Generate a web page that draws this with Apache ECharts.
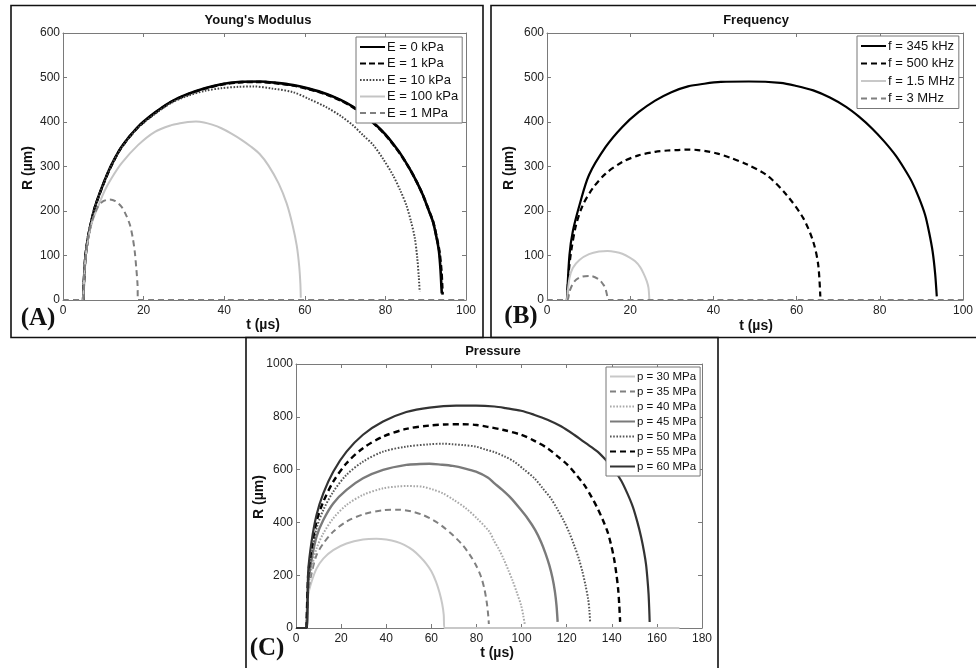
<!DOCTYPE html>
<html>
<head>
<meta charset="utf-8">
<script src="https://cdn.jsdelivr.net/npm/echarts@6/dist/echarts.min.js"></script>
<style>
html,body{margin:0;padding:0;background:#fff;}
#chart{width:976px;height:668px;}
</style>
</head>
<body>
<div id="chart"></div>
<script>
// ---------- Data (t in µs, R in µm) ----------
// Panel A: Young's Modulus
const A_names = ['E = 0 kPa', 'E = 1 kPa', 'E = 10 kPa', 'E = 100 kPa', 'E = 1 MPa'];
const A_E0 = [[5,0],[5.5,90],[6.2,140],[7,175],[7.8,205],[8.7,230],[10.3,268],[12,303],[14.5,344],[18.6,389],[22.8,421],[26.9,446],[31,463],[35.2,476],[39.3,485],[43.5,490],[48.8,491],[53,488],[57.1,483],[61,475],[65.4,463],[69,449],[72,434],[75,414],[77.8,392],[80,372],[81.9,351],[84,325],[86,295],[87.8,265],[89.3,236],[90.6,205],[91.8,176],[92.7,140],[93.3,109],[93.7,65],[93.9,30],[94,15]];
const A_E1 = [[5,0],[5.5,90],[6.2,140],[7,175],[7.8,205],[8.7,229],[10.3,267],[12,302],[14.5,343],[18.6,388],[22.8,420],[26.9,445],[31,462],[35.2,475],[39.3,484],[43.5,489],[48.8,490],[53,487],[57.1,482],[61,474],[65.4,462],[69,448],[72,433],[75,413],[77.8,391],[80,371],[81.9,350],[84,324],[86,295],[87.8,265],[89.3,236],[90.6,206],[91.8,177],[92.7,142],[93.4,109],[93.9,65],[94.1,30],[94.2,12]];
const A_E10 = [[5,0],[5.5,90],[6.2,140],[7,175],[7.8,205],[8.7,229],[10.3,267],[12,302],[14.5,342],[18.6,387],[22.8,418],[26.9,443],[31,459],[35.2,470],[39.3,476],[43.5,479],[47.2,480],[52,475],[57.1,467],[61,452],[65.4,433],[69,413],[72,392],[74.5,370],[77,348],[79.5,316],[81.9,280],[83.7,246],[85.2,213],[86.4,175],[87.3,139],[87.9,95],[88.3,50],[88.5,19]];
const A_E100 = [[5,0],[5.5,85],[6.2,135],[7.2,175],[8.7,210],[10.3,245],[12,273],[14.5,307],[18.6,348],[22.8,378],[26.9,393],[29,397],[31,400],[33,401],[35,399],[37,394],[39.3,386],[41.8,374],[44.3,360],[46.6,345],[48.8,328],[51,302],[53.5,262],[55.5,217],[57,167],[58,122],[58.6,77],[58.9,37],[59,5]];
const A_E1M = [[0,0],[5,0],[5.3,60],[5.8,110],[6.4,150],[7.5,185],[8.7,210],[10,222],[11.6,226],[13,222],[14.5,210],[15.6,192],[16.6,169],[17.3,140],[17.8,109],[18.2,70],[18.5,34],[18.6,0],[100,0]];

// Panel B: Frequency
const B_names = ['f = 345 kHz', 'f = 500 kHz', 'f = 1.5 MHz', 'f = 3 MHz'];
const B_f345 = [[4.8,0],[5.4,101],[6.2,154],[7.8,213],[10.1,281],[14.1,344],[18.1,389],[22,422],[26,448],[29.9,467],[33.9,480],[37.8,486],[41.8,490],[48.5,491],[56.1,488],[60,481],[64,471],[68,455],[71.9,434],[75,412],[78.2,385],[81,357],[83.8,325],[85.9,295],[87.7,266],[89.4,230],[90.9,191],[91.9,150],[92.7,109],[93.3,60],[93.7,8]];
const B_f500 = [[4.8,0],[5.2,60],[5.8,109],[7,169],[8.6,213],[11,251],[14.1,284],[18.1,310],[22,325],[26,333],[29,336],[31.5,337],[34,338],[36.3,337],[38.5,334],[41,329],[44,320],[48,305],[52.9,280],[57.6,236],[61.6,184],[64,131],[65.2,79],[65.7,8]];
const B_f15 = [[4.8,0],[5.4,49],[6.2,72],[7.8,90],[10.1,103],[12.5,109],[14.5,110],[16.5,108],[18.1,104],[19.8,96],[21.2,87],[22.4,74],[23.2,60],[24,42],[24.4,27],[24.6,0]];
const B_f3 = [[0,0],[4.8,0],[5.4,19],[6.6,42],[8.6,53],[10.5,54],[12.5,46],[13.5,35],[14,27],[14.5,8],[14.6,0],[100,0]];

// Panel C: Pressure
const C_names = ['p = 30 MPa', 'p = 35 MPa', 'p = 40 MPa', 'p = 45 MPa', 'p = 50 MPa', 'p = 55 MPa', 'p = 60 MPa'];
const C_p30 = [[4.7,0],[5.4,124],[6.9,175],[9.1,225],[12.1,263],[16.5,295],[22.4,320],[29.7,335],[35.6,338],[40,335],[44.5,327],[48,315],[51.8,295],[55,270],[57.7,244],[60,215],[62.1,175],[63.6,135],[64.8,92],[65.5,50],[65.8,0],[170,0]];
const C_p35 = [[4.7,0],[5.4,137],[6.9,206],[9.1,276],[12.1,320],[16.5,365],[22.4,403],[29.7,430],[38.6,446],[46,448],[51,442],[56.3,428],[61,408],[65.1,384],[69.5,352],[73.9,314],[77,278],[79.8,238],[82,195],[83.5,149],[84.6,95],[85.2,50],[85.5,15]];
const C_p40 = [[4.7,0],[5.4,149],[6.9,225],[9.1,301],[12.1,358],[16.5,415],[22.4,466],[29.7,504],[38.6,529],[45,536],[48.9,538],[53,537],[56.3,535],[60.5,525],[65.1,510],[70,485],[75.4,453],[80.5,413],[85.7,365],[88,327],[90,298],[92,262],[94,222],[96,180],[98,132],[99.8,86],[100.8,45],[101.4,15]];
const C_p45 = [[4.7,0],[5.4,162],[6.9,257],[9.1,346],[12.1,409],[16.5,472],[22.4,523],[29.7,567],[38.6,599],[48.9,618],[55,621],[59.2,622],[64,619],[69.5,614],[75,604],[79.8,592],[85,570],[88,548],[91.6,522],[95.4,491],[99,455],[102.7,415],[106,372],[108.6,327],[110.6,283],[112.3,238],[113.7,190],[114.8,137],[115.5,85],[116,23]];
const C_p50 = [[4.7,0],[5.4,175],[6.9,276],[9.1,377],[12.1,447],[16.5,516],[22.4,580],[29.7,630],[38.6,668],[48.9,687],[59.2,696],[65,698],[69.5,696],[74,693],[79.8,687],[84,676],[88,666],[92.4,650],[96.8,630],[101,601],[105.7,567],[109.5,528],[113,491],[116,448],[118.9,403],[121.2,360],[123.3,314],[125.3,265],[127,213],[128.4,160],[129.5,111],[130.1,65],[130.4,23]];
const C_p55 = [[4.7,0],[5.4,200],[6.9,301],[9.1,403],[12.1,478],[16.5,554],[22.4,624],[29.7,681],[38.6,725],[48.9,754],[59.2,767],[66,771],[73.9,772],[80,769],[85,762],[91.6,751],[99.8,732],[105.5,710],[111.5,681],[116,650],[120.4,618],[124.3,580],[127.8,542],[131,497],[133.7,453],[136,410],[138.1,365],[139.7,315],[141,263],[142,207],[142.8,149],[143.3,90],[143.7,23]];
const C_p60 = [[0,0],[4.7,0],[5.4,213],[6.9,327],[9.1,428],[12.1,510],[16.5,592],[22.4,668],[29.7,732],[38.6,782],[48.9,818],[59.2,835],[71,842],[79.8,842],[88,839],[93,833],[99.8,823],[105.5,808],[111.5,789],[117.5,764],[123.3,732],[128.5,700],[133.7,668],[137.5,635],[141,599],[144.2,558],[146.9,510],[149.3,460],[151.3,403],[153,345],[154.3,289],[155.2,240],[155.8,187],[156.3,130],[156.6,73],[156.8,23]];

// Axis ranges / ticks
const xTicksAB = {min: 0, max: 100, interval: 20};
const yTicksAB = {min: 0, max: 600, interval: 100};
const xTicksC = {min: 0, max: 180, interval: 20};
const yTicksC = {min: 0, max: 1000, interval: 200};

// ---------- Styling ----------
const FONT = '"Liberation Sans", Arial, sans-serif';
const AX = '#7a7a7a';
const DASH = [6, 4];
const DOT = [1.6, 1.6];

const grids = [
  {left: 63, top: 33, width: 403, height: 267},
  {left: 547, top: 33, width: 422, height: 267},
  {left: 296, top: 364, width: 406, height: 264}
];

const plainNum = function (v) { return String(v); };

function mainX(g, t) {
  return Object.assign({type: 'value', gridIndex: g, position: 'bottom',
    axisLine: {show: true, onZero: false, lineStyle: {color: AX, width: 1}},
    axisTick: {show: true, inside: true, length: 4, lineStyle: {color: AX}},
    axisLabel: {show: true, color: '#222', fontSize: 12, fontFamily: FONT, margin: 5, formatter: plainNum},
    splitLine: {show: false}}, t);
}
function boxX(g, t) {
  return Object.assign({type: 'value', gridIndex: g, position: 'top',
    axisLine: {show: true, onZero: false, lineStyle: {color: AX, width: 1}},
    axisTick: {show: true, inside: true, length: 4, lineStyle: {color: AX}},
    axisLabel: {show: false}, splitLine: {show: false}}, t);
}
function mainY(g, t) {
  return Object.assign({type: 'value', gridIndex: g, position: 'left',
    axisLine: {show: true, onZero: false, lineStyle: {color: AX, width: 1}},
    axisTick: {show: true, inside: true, length: 4, lineStyle: {color: AX}},
    axisLabel: {show: true, color: '#222', fontSize: 12, fontFamily: FONT, margin: 3, formatter: plainNum},
    splitLine: {show: false}}, t);
}
function boxY(g, t) {
  return Object.assign({type: 'value', gridIndex: g, position: 'right',
    axisLine: {show: true, onZero: false, lineStyle: {color: AX, width: 1}},
    axisTick: {show: true, inside: true, length: 4, lineStyle: {color: AX}},
    axisLabel: {show: false}, splitLine: {show: false}}, t);
}

function line(name, data, axis, color, width, type) {
  return {
    name: name, type: 'line', data: data,
    xAxisIndex: axis, yAxisIndex: axis,
    showSymbol: false, symbol: 'none',
    smooth: 0.3,
    lineStyle: {color: color, width: width, type: type || 'solid', cap: 'butt'},
    itemStyle: {color: color},
    emphasis: {disabled: true},
    animation: false
  };
}

const series = [
  line(A_names[0], A_E0, 0, '#000000', 2.6),
  line(A_names[1], A_E1, 0, '#000000', 2.6, [6, 3]),
  line(A_names[2], A_E10, 0, '#444444', 2, DOT),
  line(A_names[3], A_E100, 0, '#c4c4c4', 2),
  line(A_names[4], A_E1M, 0, '#7f7f7f', 2, DASH),

  line(B_names[0], B_f345, 2, '#000000', 2.2),
  line(B_names[1], B_f500, 2, '#000000', 2.2, DASH),
  line(B_names[2], B_f15, 2, '#c8c8c8', 2),
  line(B_names[3], B_f3, 2, '#7f7f7f', 2, DASH),

  line(C_names[0], C_p30, 4, '#c8c8c8', 2),
  line(C_names[1], C_p35, 4, '#808080', 2, [6, 4]),
  line(C_names[2], C_p40, 4, '#a8a8a8', 2, DOT),
  line(C_names[3], C_p45, 4, '#7a7a7a', 2.4),
  line(C_names[4], C_p50, 4, '#555555', 2, DOT),
  line(C_names[5], C_p55, 4, '#000000', 2.4, [6, 4]),
  line(C_names[6], C_p60, 4, '#333333', 2.2)
];

function legend(names, left, top, gap, lh, fs) {
  return {
    data: names, orient: 'vertical', left: left, top: top,
    align: 'left', itemWidth: 25, itemHeight: lh, itemGap: gap,
    backgroundColor: '#fff', borderColor: '#777', borderWidth: 1,
    padding: [3, 4, 3, 3], selectedMode: false,
    itemStyle: {opacity: 0, borderWidth: 0},
    textStyle: {fontFamily: FONT, fontSize: fs, color: '#111', lineHeight: lh, padding: [0, 0, 0, -3]}
  };
}

function txt(text, x, y, opts) {
  return {type: 'text', x: x, y: y, rotation: (opts && opts.rotation) || 0, z: 100,
    style: Object.assign({text: text, fontFamily: FONT, fontSize: 13, fontWeight: 'bold', fill: '#111',
      textAlign: 'center', textVerticalAlign: 'middle'}, opts && opts.style)};
}
const serif = {fontFamily: '"Liberation Serif", "Times New Roman", serif', fontSize: 25, fontWeight: 'bold', fill: '#111'};

const option = {
  backgroundColor: '#fff',
  animation: false,
  grid: grids,
  xAxis: [
    mainX(0, xTicksAB), boxX(0, xTicksAB),
    mainX(1, xTicksAB), boxX(1, xTicksAB),
    mainX(2, xTicksC), boxX(2, xTicksC)
  ],
  yAxis: [
    mainY(0, yTicksAB), boxY(0, yTicksAB),
    mainY(1, yTicksAB), boxY(1, yTicksAB),
    mainY(2, yTicksC), boxY(2, yTicksC)
  ],
  legend: [
    legend(A_names, 356, 37, 2.5, 14, 13),
    legend(B_names, 857, 36, 3.5, 14, 13),
    legend(C_names, 606, 367, 2, 13, 11.5)
  ],
  series: series,
  graphic: [
    {type: 'rect', z: 100, shape: {x: 11, y: 5.5, width: 472, height: 332}, style: {fill: 'none', stroke: '#111', lineWidth: 1.6}},
    {type: 'rect', z: 100, shape: {x: 491, y: 5.5, width: 500, height: 332}, style: {fill: 'none', stroke: '#111', lineWidth: 1.6}},
    {type: 'rect', z: 100, shape: {x: 246, y: 337.5, width: 472, height: 345}, style: {fill: 'none', stroke: '#111', lineWidth: 1.6}},
    txt("Young's Modulus", 258, 20),
    txt('Frequency', 756, 20),
    txt('Pressure', 493, 351),
    txt('R (\u00b5m)', 28, 168, {rotation: Math.PI / 2, style: {fontSize: 14}}),
    txt('R (\u00b5m)', 509, 168, {rotation: Math.PI / 2, style: {fontSize: 14}}),
    txt('R (\u00b5m)', 259, 497, {rotation: Math.PI / 2, style: {fontSize: 14}}),
    txt('t (\u00b5s)', 263, 325, {style: {fontSize: 14}}),
    txt('t (\u00b5s)', 756, 326, {style: {fontSize: 14}}),
    txt('t (\u00b5s)', 497, 653, {style: {fontSize: 14}}),
    txt('(A)', 38, 319, {style: serif}),
    txt('(B)', 521, 317, {style: serif}),
    txt('(C)', 267, 649, {style: serif})
  ]
};

const chart = echarts.init(document.getElementById('chart'), null, {renderer: 'canvas'});
chart.setOption(option);
</script>
</body>
</html>
